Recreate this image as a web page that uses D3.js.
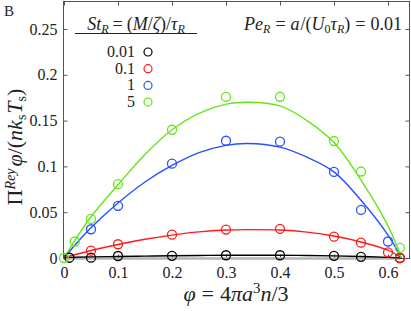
<!DOCTYPE html>
<html>
<head>
<meta charset="utf-8">
<script src="https://cdn.jsdelivr.net/npm/d3@7"></script>
<style>
  body { margin: 0; background: #fff; }
  svg { display: block; }
  text { font-family: "Liberation Serif", "Times New Roman", serif; fill: #222; }
  .tick text { font-size: 16px; }
  .axis path { display: none; }
  .axis line { stroke: #555; }
</style>
</head>
<body>
<div id="chart"></div>
<script>
// data
var stLevels = ['0.01', '0.1', '1', '5'];
var colors = ['#000000', '#ff1a1a', '#2a4fff', '#66e619'];

var xTicks = [0, 0.1, 0.2, 0.3, 0.4, 0.5, 0.6];
var xTickLabels = ['0', '0.1', '0.2', '0.3', '0.4', '0.5', '0.6'];
var yTicks = [0, 0.05, 0.1, 0.15, 0.2, 0.25];
var yTickLabels = ['0', '0.05', '0.1', '0.15', '0.2', '0.25'];

// simulation points
var phi001 = [0.01, 0.05, 0.1, 0.2, 0.3, 0.4, 0.5, 0.55, 0.622];
var val001 = [0.0003, 0.0004, 0.0022, 0.0024, 0.003, 0.003, 0.0024, 0.0013, 0.0];
var phi01 = [0.05, 0.1, 0.2, 0.3, 0.4, 0.5, 0.55, 0.6, 0.622];
var val01 = [0.008, 0.015, 0.0255, 0.031, 0.0317, 0.0233, 0.0167, 0.0062, 0.0];
var phi1 = [0.05, 0.1, 0.2, 0.3, 0.4, 0.5, 0.55, 0.6];
var val1 = [0.0314, 0.057, 0.103, 0.128, 0.127, 0.094, 0.0525, 0.018];
var phi5 = [0, 0.02, 0.05, 0.1, 0.2, 0.3, 0.4, 0.5, 0.55, 0.622];
var val5 = [0.0, 0.018, 0.0427, 0.0806, 0.14, 0.1758, 0.176, 0.1277, 0.0944, 0.011];

// fitted curves
var fitPhi = [0, 0.02, 0.05, 0.1, 0.15, 0.2, 0.25, 0.3, 0.34, 0.4, 0.45, 0.5, 0.55, 0.6, 0.625];
var fit001 = [0.0006, 0.0008, 0.0012, 0.0017, 0.0021, 0.0025, 0.0028, 0.003, 0.003, 0.003, 0.0028, 0.0023, 0.0016, 0.0007, 0.0];
var fit01 = [0.0, 0.0035, 0.0082, 0.0148, 0.0204, 0.025, 0.0285, 0.0305, 0.031, 0.0305, 0.0282, 0.024, 0.0175, 0.0085, 0.0];
var fit1 = [0.0, 0.014, 0.033, 0.06, 0.083, 0.101, 0.115, 0.123, 0.125, 0.121, 0.11, 0.094, 0.063, 0.025, 0.0];
var fit5 = [0.0, 0.019, 0.045, 0.08, 0.113, 0.14, 0.158, 0.168, 0.17, 0.166, 0.15, 0.126, 0.085, 0.035, 0.0];

var pointSets = [[phi001, val001], [phi01, val01], [phi1, val1], [phi5, val5]];
var fitSets = [fit001, fit01, fit1, fit5];

var width = 411, height = 311;

var x = d3.scaleLinear().domain([0, 0.64]).range([64, 409.6]);
var y = d3.scaleLinear().domain([0, 0.28]).range([258, 1.5]);

var svg = d3.select('#chart').append('svg')
  .attr('width', width)
  .attr('height', height);

// axes with inward ticks
svg.append('g').attr('class', 'axis')
  .attr('transform', 'translate(63.5,0)')
  .call(d3.axisLeft(y).tickValues(yTicks).tickSizeInner(-4).tickSizeOuter(0).tickPadding(6)
    .tickFormat(function(d, i) { return yTickLabels[i]; }));

svg.append('g').attr('class', 'axis')
  .attr('transform', 'translate(409.5,0)')
  .call(d3.axisRight(y).tickValues(yTicks).tickSizeInner(-4).tickSizeOuter(0).tickFormat(''));

svg.append('g').attr('class', 'axis')
  .attr('transform', 'translate(0,258.5)')
  .call(d3.axisBottom(x).tickValues(xTicks).tickSizeInner(-4).tickSizeOuter(0).tickPadding(8)
    .tickFormat(function(d, i) { return xTickLabels[i]; }));

svg.append('g').attr('class', 'axis')
  .attr('transform', 'translate(0,1.5)')
  .call(d3.axisTop(x).tickValues(xTicks).tickSizeInner(-4).tickSizeOuter(0).tickFormat(''));

svg.selectAll('.axis').attr('font-family', null).attr('font-size', null);

// frame
svg.append('rect')
  .attr('x', 63.5).attr('y', 1.5)
  .attr('width', 346).attr('height', 257)
  .style('fill', 'none')
  .style('stroke', '#555')
  .style('stroke-width', 1);

// grey zero line
svg.append('line')
  .attr('x1', x(0)).attr('x2', x(0.622))
  .attr('y1', y(0) + 0.5).attr('y2', y(0) + 0.5)
  .style('stroke', '#b5b5b5')
  .style('stroke-width', 2.5);

var line = d3.line()
  .x(function(d) { return x(d[0]); })
  .y(function(d) { return y(d[1]); })
  .curve(d3.curveCatmullRom);

fitSets.forEach(function(f, k) {
  svg.append('path')
    .datum(fitPhi.map(function(p, i) { return [p, f[i]]; }))
    .attr('d', line)
    .style('fill', 'none')
    .style('stroke', colors[k])
    .style('stroke-width', 1.4);
});

pointSets.forEach(function(s, k) {
  svg.selectAll('.pt' + k)
    .data(s[0].map(function(p, i) { return [p, s[1][i]]; }))
    .enter()
    .append('circle')
    .attr('class', 'pt' + k)
    .attr('cx', function(d) { return x(d[0]); })
    .attr('cy', function(d) { return y(d[1]); })
    .attr('r', 4.5)
    .style('fill', 'none')
    .style('stroke', colors[k])
    .style('stroke-width', 1.3);
});

// legend
var legend = svg.append('g').attr('class', 'legend');

var title = legend.append('text')
  .attr('x', 136).attr('y', 30)
  .attr('text-anchor', 'middle')
  .style('font-size', '18px');
title.append('tspan').style('font-style', 'italic').text('St');
title.append('tspan').style('font-style', 'italic').style('font-size', '12px').attr('dy', 3).text('R');
title.append('tspan').attr('dy', -3).attr('dx', 4).text('=');
title.append('tspan').attr('dx', 4).text('(');
title.append('tspan').style('font-style', 'italic').text('M');
title.append('tspan').text('/');
title.append('tspan').style('font-style', 'italic').text('ζ');
title.append('tspan').text(')/');
title.append('tspan').style('font-style', 'italic').text('τ');
title.append('tspan').style('font-style', 'italic').style('font-size', '12px').attr('dy', 3).text('R');

legend.append('line')
  .attr('x1', 75).attr('x2', 197)
  .attr('y1', 33.5).attr('y2', 33.5)
  .style('stroke', '#222')
  .style('stroke-width', 1);

legend.selectAll('.legend-label')
  .data(stLevels)
  .enter()
  .append('text')
  .attr('class', 'legend-label')
  .attr('x', 135)
  .attr('y', function(d, i) { return 57 + i * 16.7; })
  .attr('text-anchor', 'end')
  .style('font-size', '16px')
  .text(function(d) { return d; });

legend.selectAll('.legend-mark')
  .data(stLevels)
  .enter()
  .append('circle')
  .attr('class', 'legend-mark')
  .attr('cx', 148)
  .attr('cy', function(d, i) { return 52 + i * 16.7; })
  .attr('r', 4)
  .style('fill', 'none')
  .style('stroke', function(d, i) { return colors[i]; })
  .style('stroke-width', 1.2);

// Peclet annotation
var pe = svg.append('text')
  .attr('x', 402).attr('y', 30)
  .attr('text-anchor', 'end')
  .style('font-size', '18px');
pe.append('tspan').style('font-style', 'italic').text('Pe');
pe.append('tspan').style('font-style', 'italic').style('font-size', '12px').attr('dy', 3).text('R');
pe.append('tspan').attr('dy', -3).attr('dx', 5).text('=');
pe.append('tspan').style('font-style', 'italic').attr('dx', 5).text('a');
pe.append('tspan').attr('dx', 1).text('/(');
pe.append('tspan').style('font-style', 'italic').text('U');
pe.append('tspan').style('font-size', '12px').attr('dy', 3).text('0');
pe.append('tspan').style('font-style', 'italic').attr('dy', -3).text('τ');
pe.append('tspan').style('font-style', 'italic').style('font-size', '12px').attr('dy', 3).text('R');
pe.append('tspan').attr('dy', -3).text(')');
pe.append('tspan').attr('dx', 5).text('=');
pe.append('tspan').attr('dx', 5).text('0.01');

// panel letter
svg.append('text')
  .attr('x', 4).attr('y', 16)
  .style('font-size', '15px')
  .text('B');

// axis titles
var xl = svg.append('text')
  .attr('x', 236).attr('y', 301)
  .attr('text-anchor', 'middle')
  .style('font-size', '22px');
xl.append('tspan').style('font-style', 'italic').text('φ');
xl.append('tspan').attr('dx', 6).text('=');
xl.append('tspan').attr('dx', 6).text('4');
xl.append('tspan').style('font-style', 'italic').text('πa');
xl.append('tspan').style('font-size', '15px').attr('dy', -8).text('3');
xl.append('tspan').style('font-style', 'italic').attr('dy', 8).text('n');
xl.append('tspan').text('/3');

var yl = svg.append('text')
  .attr('transform', 'translate(22,147) rotate(-90)')
  .attr('text-anchor', 'middle')
  .style('font-size', '22px');
yl.append('tspan').text('Π');
yl.append('tspan').style('font-style', 'italic').style('font-size', '14px').attr('dy', -7).text('Rey');
yl.append('tspan').style('font-style', 'italic').attr('dy', 7).attr('dx', 2).text('φ');
yl.append('tspan').text('/(');
yl.append('tspan').style('font-style', 'italic').text('nk');
yl.append('tspan').style('font-size', '14px').attr('dy', 4).text('s');
yl.append('tspan').style('font-style', 'italic').attr('dy', -4).attr('dx', 1).text('T');
yl.append('tspan').style('font-size', '14px').attr('dy', 4).text('s');
yl.append('tspan').attr('dy', -4).text(')');
</script>
</body>
</html>
